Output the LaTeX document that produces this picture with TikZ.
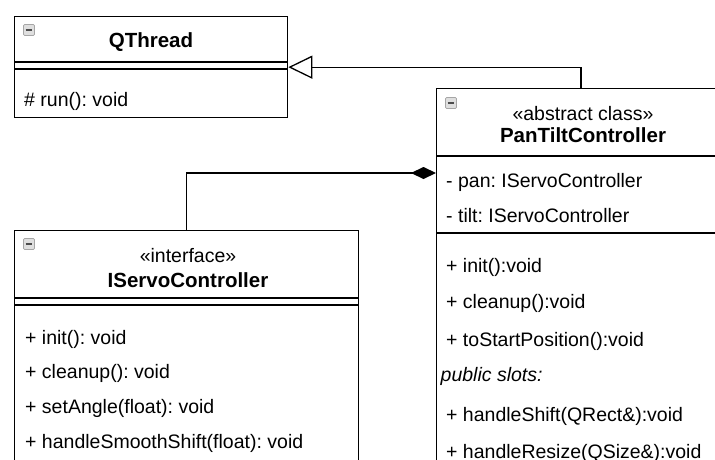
\documentclass[tikz,border=0pt]{standalone}
\usepackage{fontspec}
\setmainfont{Liberation Sans}
\usetikzlibrary{arrows.meta,calc}
\frenchspacing
\begin{document}
\begin{tikzpicture}[x=1pt,y=-1pt,
  box/.style={draw=black,line width=1.3pt,inner sep=0pt,anchor=north west},
  sep/.style={draw=black,line width=1.3pt},
  txt/.style={inner sep=0pt,anchor=base west,font=\fontsize{19.5}{20}\selectfont},
  ttl/.style={inner sep=0pt,anchor=base,font=\fontsize{20.5}{21}\selectfont\bfseries},
  ster/.style={inner sep=0pt,anchor=base,font=\fontsize{19.5}{20}\selectfont},
  icon/.style={draw=gray!70,fill=gray!25,rounded corners=1.2pt,minimum size=11pt,inner sep=0pt,line width=0.7pt,
    path picture={\draw[black!70,line width=1.5pt] ([xshift=2.2pt]path picture bounding box.west) -- ([xshift=-2.2pt]path picture bounding box.east);}},
  conn/.style={draw=black,line width=1.3pt}
]
\useasboundingbox (0,0) rectangle (715,459);
\clip (0,0) rectangle (715,459);
% QThread
\node[box,minimum width=273pt,minimum height=101pt] (qt) at (14,16) {};
\draw[sep] (14,62) -- (287,62);
\draw[sep] (14,69) -- (287,69);
\node[icon] (qti) at (29,30) {};
\node[ttl] (qtt) at (151,47) {QThread};
\node[txt] (qtm) at (24,106) {\# run(): void};
% PanTiltController
\node[box,minimum width=295pt,minimum height=420pt] (pt) at (436,88) {};
\draw[sep] (436,156) -- (731,156);
\draw[sep] (436,233) -- (731,233);
\node[icon] (pti) at (451,103) {};
\node[ster] (pts) at (583,120) {«abstract class»};
\node[ttl] (ptt) at (583,142) {PanTiltController};
\node[txt] (pa1) at (446,187) {- pan: IServoController};
\node[txt] (pa2) at (446,222) {- tilt: IServoController};
\node[txt] (pm1) at (446,272) {+ init():void};
\node[txt] (pm2) at (446,308) {+ cleanup():void};
\node[txt] (pm3) at (446,346.5) {+ toStartPosition():void};
\node[txt,font=\fontsize{19.5}{20}\selectfont\itshape] (pm4) at (440.5,381.5) {public slots:};
\node[txt] (pm5) at (446,421.5) {+ handleShift(QRect\&):void};
\node[txt] (pm6) at (446,458) {+ handleResize(QSize\&):void};
% IServoController
\node[box,minimum width=344pt,minimum height=300pt] (is) at (14,230) {};
\draw[sep] (14,298) -- (358,298);
\draw[sep] (14,305) -- (358,305);
\node[icon] (isi) at (29,244) {};
\node[ster] (iss) at (188,262) {«interface»};
\node[ttl] (ist) at (188,287) {IServoController};
\node[txt] (im1) at (25,344) {+ init(): void};
\node[txt] (im2) at (25,378.5) {+ cleanup(): void};
\node[txt] (im3) at (25,413.5) {+ setAngle(float): void};
\node[txt] (im4) at (25,448.5) {+ handleSmoothShift(float): void};
% connectors
\draw[conn,-{Triangle[open,length=24pt,width=23pt,line width=1.3pt]}] ($(pt.north west)+(145,0)$) |- (qt.east);
\draw[conn,-{Diamond[fill=black,length=25pt,width=12pt]}] (is.north) |- ($(pt.north west)+(0,85)$);
\end{tikzpicture}
\end{document}
